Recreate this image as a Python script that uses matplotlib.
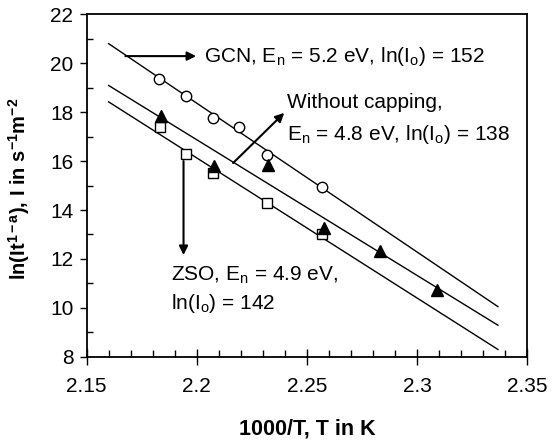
import matplotlib
matplotlib.use("Agg")
import matplotlib.pyplot as plt
from matplotlib.ticker import MultipleLocator

plt.rcParams['font.family'] = ['Liberation Sans', 'DejaVu Sans']
plt.rcParams['mathtext.fontset'] = 'custom'
plt.rcParams['mathtext.rm'] = 'Liberation Sans'
plt.rcParams['mathtext.it'] = 'Liberation Sans'
plt.rcParams['mathtext.bf'] = 'Liberation Sans:bold'

# Data
gcn_x = [2.183, 2.195, 2.2074, 2.2192, 2.232, 2.2569]
gcn_y = [19.34, 18.68, 17.77, 17.38, 16.23, 14.92]

wc_x = [2.1837, 2.208, 2.2325, 2.2577, 2.2833, 2.309]
wc_y = [17.85, 15.78, 15.85, 13.25, 12.33, 10.72]

zso_x = [2.1832, 2.1949, 2.2074, 2.232, 2.2569]
zso_y = [17.38, 16.30, 15.52, 14.27, 13.00]

fit_x = [2.16, 2.3367]
gcn_fit = [20.80, 10.05]
wc_fit = [19.09, 9.29]
zso_fit = [18.42, 8.30]

fig = plt.figure(figsize=(5.55, 4.46), dpi=100)
ax = fig.add_axes([0.156, 0.200, 0.794, 0.768])

ax.plot(fit_x, gcn_fit, color='black', lw=1.0)
ax.plot(fit_x, wc_fit, color='black', lw=1.0)
ax.plot(fit_x, zso_fit, color='black', lw=1.0)

ax.plot(gcn_x, gcn_y, 'o', mfc='white', mec='black', mew=1.0, ms=7.5, ls='none', zorder=3)
ax.plot(zso_x, zso_y, 's', mfc='white', mec='black', mew=1.0, ms=7, ls='none', zorder=3)
ax.plot(wc_x, wc_y, '^', mfc='black', mec='black', ms=8, ls='none', zorder=4)

ax.set_xlim(2.15, 2.35)
ax.set_ylim(8, 22)
ax.xaxis.set_minor_locator(MultipleLocator(0.01))
ax.yaxis.set_major_locator(MultipleLocator(2))
ax.yaxis.set_minor_locator(MultipleLocator(1))
ax.set_xticks([2.15, 2.2, 2.25, 2.3, 2.35])
ax.set_xticklabels(['2.15', '2.2', '2.25', '2.3', '2.35'])

tfs = 15
ax.tick_params(axis='x', which='major', direction='inout', length=11, width=1.0, labelsize=tfs, pad=9)
ax.tick_params(axis='x', which='minor', direction='in', length=5, width=1.0)
ax.tick_params(axis='y', which='major', direction='out', length=5, width=1.0, labelsize=tfs, pad=4.5)
ax.tick_params(axis='y', which='minor', direction='in', length=4, width=1.0)
for s in ax.spines.values():
    s.set_linewidth(1.3)

ax.set_xlabel('1000/T, T in K', fontsize=15.5, fontweight='bold')
ax.xaxis.set_label_coords(0.5, -0.179)
ax.set_ylabel(r'ln(It$^{\mathbf{1-a}}$), I in s$^{\mathbf{-1}}$m$^{\mathbf{-2}}$', fontsize=14.5, fontweight='bold')
ax.yaxis.set_label_coords(-0.1235, 0.489)

ap = dict(arrowstyle='-|>', color='black', lw=1.5, mutation_scale=13, shrinkA=0, shrinkB=0)
ax.annotate('', xy=(2.1997, 20.29), xytext=(2.1676, 20.29), arrowprops=ap)
ax.annotate('', xy=(2.2397, 17.97), xytext=(2.2165, 15.92), arrowprops=ap)
ax.annotate('', xy=(2.194, 12.16), xytext=(2.194, 16.0), arrowprops=ap)

fs = 15
ax.text(2.2034, 20.29, r'GCN, E$_{\rm n}$ = 5.2 eV, ln(I$_{\rm o}$) = 152', fontsize=fs, va='center', ha='left')
ax.text(2.2409, 18.38, 'Without capping,', fontsize=fs, va='center', ha='left')
ax.text(2.2409, 17.08, r'E$_{\rm n}$ = 4.8 eV, ln(I$_{\rm o}$) = 138', fontsize=fs, va='center', ha='left')
ax.text(2.1881, 11.34, r'ZSO, E$_{\rm n}$ = 4.9 eV,', fontsize=fs, va='center', ha='left')
ax.text(2.1881, 10.18, r'ln(I$_{\rm o}$) = 142', fontsize=fs, va='center', ha='left')

fig.savefig('out.png', dpi=100)
